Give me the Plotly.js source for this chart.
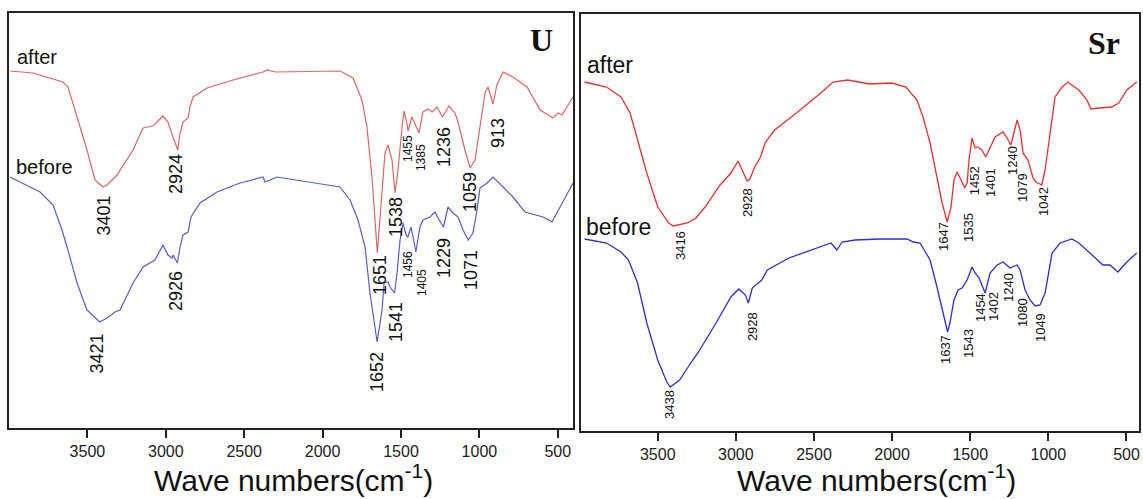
<!DOCTYPE html>
<html>
<head>
<meta charset="utf-8">
<script src="https://cdn.plot.ly/plotly-3.0.1.min.js"></script>
<style>html,body{margin:0;padding:0;background:#fff;}#chart{width:1143px;height:499px;}</style>
</head>
<body>
<div id="chart"></div>
<script>
// ---------- U panel (left) ----------
const uAfterWn = [3994,3847,3656,3624,3566,3503,3451,3401,3375,3311,3209,3145,3082,3018,2986,2960,2954,2924,2909,2890,2858,2846,2826,2737,2571,2380,2354,2300,1889,1806,1749,1717,1685,1651,1621,1602,1583,1557,1538,1519,1493,1481,1462,1455,1430,1385,1360,1328,1302,1270,1236,1194,1156,1136,1092,1059,1028,996,964,945,913,888,849,786,696,613,530,499,473,403];
const uAfterT  = [357,355,346,341,311,278,248,241,243,253,278,300,302,312,306,293,291,278,295,306,310,321,331,340,348,356,358,356,357,350,328,301,251,175,235,275,283,268,235,258,301,317,305,297,311,295,316,319,316,321,311,322,315,306,278,260,268,301,335,341,324,343,356,351,341,318,310,315,313,331];

const uBeforeWn = [3994,3802,3719,3662,3624,3566,3503,3421,3375,3324,3292,3209,3145,3069,3018,2986,2960,2954,2926,2909,2890,2858,2839,2782,2673,2527,2380,2367,2291,1889,1825,1774,1729,1698,1652,1621,1608,1583,1570,1541,1525,1506,1487,1468,1456,1436,1423,1405,1379,1360,1315,1283,1264,1229,1200,1168,1136,1104,1071,1041,1015,996,951,913,849,786,709,658,594,537,486,403];
const uBeforeT  = [251,236,223,198,178,145,118,106,110,116,118,145,161,168,183,173,170,173,165,181,193,196,211,225,236,245,251,246,251,241,228,208,181,135,86,118,145,146,141,135,155,188,205,193,191,201,191,176,201,208,211,216,210,201,221,215,211,198,188,195,218,240,245,251,241,231,216,214,211,206,221,245];

const uAfterPeaks  = ['3401','2924','1651','1538','1455','1385','1236','1059','913'];
const uBeforePeaks = ['3421','2926','1652','1541','1456','1405','1229','1071'];

// ---------- Sr panel (right) ----------
const srAfterWn = [3968,3828,3735,3677,3629,3570,3500,3430,3400,3312,3255,3197,3101,3031,2986,2951,2938,2928,2910,2880,2845,2810,2752,2612,2449,2378,2284,2144,2004,1911,1841,1802,1757,1713,1680,1647,1623,1604,1584,1565,1535,1520,1508,1488,1469,1452,1425,1401,1373,1341,1290,1264,1240,1226,1200,1181,1162,1130,1098,1079,1042,1021,989,957,912,874,850,805,753,728,677,594,549,498,434];
const srAfterT  = [349,344,334,318,291,258,224,208,205,208,213,224,246,258,270,258,255,250,252,264,273,289,301,318,339,349,351,347,348,344,331,314,288,254,228,209,224,251,259,253,243,248,271,293,283,284,281,274,284,294,299,293,286,294,311,301,278,271,253,249,246,261,298,334,344,349,346,341,331,322,323,324,328,341,349];

const srBeforeWn = [3968,3828,3735,3687,3629,3570,3500,3442,3420,3360,3289,3243,3127,3032,2981,2939,2920,2895,2834,2799,2660,2519,2391,2354,2320,2237,2077,1905,1864,1821,1757,1713,1680,1645,1630,1604,1578,1552,1520,1488,1469,1443,1405,1373,1328,1290,1245,1200,1181,1149,1117,1085,1053,1021,976,925,849,805,734,651,606,555,498,434];
const srBeforeT  = [192,188,179,171,148,108,71,49,44,51,68,78,108,134,142,136,128,143,151,161,173,181,188,181,189,191,192,192,189,188,171,144,121,99,108,131,141,143,151,164,158,153,138,158,166,169,163,166,161,141,131,125,126,138,178,188,192,188,178,166,166,159,169,178];

const srAfterPeaks  = ['3416','2928','1647','1535','1452','1401','1240','1079','1042'];
const srBeforePeaks = ['3438','2928','1637','1543','1454','1402','1240','1080','1049'];

const tickVals = [3500,3000,2500,2000,1500,1000,500];
const xTitle = 'Wave numbers(cm<sup>-1</sup>)';

// ---------- label placement (styling, in data coords of each panel) ----------
const uAfterPos  = [[3397,212],[2935,254],[1634,153],[1532,211],[1455,279],[1372,270],[1226,281],[1060,236],[881,295]];
const uAfterSize = [18,18,18,18,12,12,18,18,18];
const uBeforePos = [[3436,75],[2935,137],[1653,56],[1532,106],[1455,163],[1366,146],[1226,170],[1053,158]];
const uBeforeSize= [18,18,18,18,12,12,18,18];
const srAfterPos = [[3357,185],[2928,228],[1674,194],[1514,203],[1474,250],[1373,248],[1233,271],[1168,243],[1034,229]];
const srBeforePos= [[3428,27],[2896,104],[1661,81],[1514,87],[1437,123],[1354,124],[1258,143],[1168,118],[1053,103]];

const FONT = 'Arial, "Liberation Sans", sans-serif';
const SERIF = '"Times New Roman", "Liberation Serif", serif';

const traces = [
  {x: uAfterWn, y: uAfterT, xaxis:'x', yaxis:'y', mode:'lines', line:{color:'#e06666', width:1.2}},
  {x: uBeforeWn, y: uBeforeT, xaxis:'x', yaxis:'y', mode:'lines', line:{color:'#5b5bd6', width:1.2}},
  {x: srAfterWn, y: srAfterT, xaxis:'x2', yaxis:'y2', mode:'lines', line:{color:'#f03030', width:1.3}},
  {x: srBeforeWn, y: srBeforeT, xaxis:'x2', yaxis:'y2', mode:'lines', line:{color:'#2d2de6', width:1.3}}
];

const ann = [];
function addPeaks(labels, pos, sizes, xr, yr){
  labels.forEach((t,i)=>{
    ann.push({text:t, x:pos[i][0], y:pos[i][1], xref:xr, yref:yr, showarrow:false,
      textangle:-90, xanchor:'center', yanchor:'middle',
      font:{family:FONT, size: Array.isArray(sizes)? sizes[i] : sizes, color:'#111'}});
  });
}
addPeaks(uAfterPeaks, uAfterPos, uAfterSize, 'x', 'y');
addPeaks(uBeforePeaks, uBeforePos, uBeforeSize, 'x', 'y');
addPeaks(srAfterPeaks, srAfterPos, 13, 'x2', 'y2');
addPeaks(srBeforePeaks, srBeforePos, 13, 'x2', 'y2');

function P(px,py){ return {x:px/1143, y:1-py/499}; }
function txt(t, px, py, size, fam, xa, bold){
  const p = P(px,py);
  ann.push({text: bold? '<b>'+t+'</b>' : t, x:p.x, y:p.y, xref:'paper', yref:'paper', showarrow:false,
    xanchor:xa, yanchor:'middle', font:{family:fam, size:size, color:'#111'}});
}
txt('after', 15, 57, 20, FONT, 'left');
txt('before', 14, 167, 20, FONT, 'left');
txt('after', 585, 65, 23, FONT, 'left');
txt('before', 584, 227, 23, FONT, 'left');
txt('U', 541, 40, 32, SERIF, 'center', true);
txt('Sr', 1104, 43, 32, SERIF, 'center', true);
txt(xTitle, 293, 478, 30, FONT, 'center');
txt(xTitle, 876, 478, 30, FONT, 'center');

const axX = (dom, rng) => ({domain: dom, range: rng, showline:true, mirror:true, linewidth:2, linecolor:'#222',
  ticks:'outside', ticklen:8, tickwidth:2, tickcolor:'#222', tickvals: tickVals,
  showgrid:false, zeroline:false, tickfont:{family:FONT, size:16, color:'#222'}});
const axY = (dom, rng) => ({domain: dom, range: rng, showline:true, mirror:true, linewidth:2, linecolor:'#222',
  ticks:'', showticklabels:false, showgrid:false, zeroline:false});

const layout = {
  width:1143, height:499, margin:{l:0,r:0,t:0,b:0}, showlegend:false,
  paper_bgcolor:'#fff', plot_bgcolor:'#fff',
  xaxis: axX([9/1143, 573.3/1143], [4000, 401]),
  yaxis: axY([(499-428)/499, (499-13)/499], [0, 415]),
  xaxis2: Object.assign(axX([580.7/1143, 1139.3/1143], [3993, 418]), {anchor:'y2'}),
  yaxis2: Object.assign(axY([(499-431)/499, (499-14)/499], [0, 417]), {anchor:'x2'}),
  annotations: ann
};
layout.xaxis.anchor = 'y';
layout.yaxis.anchor = 'x';

Plotly.newPlot('chart', traces, layout, {staticPlot:true, displayModeBar:false});
</script>
</body>
</html>
